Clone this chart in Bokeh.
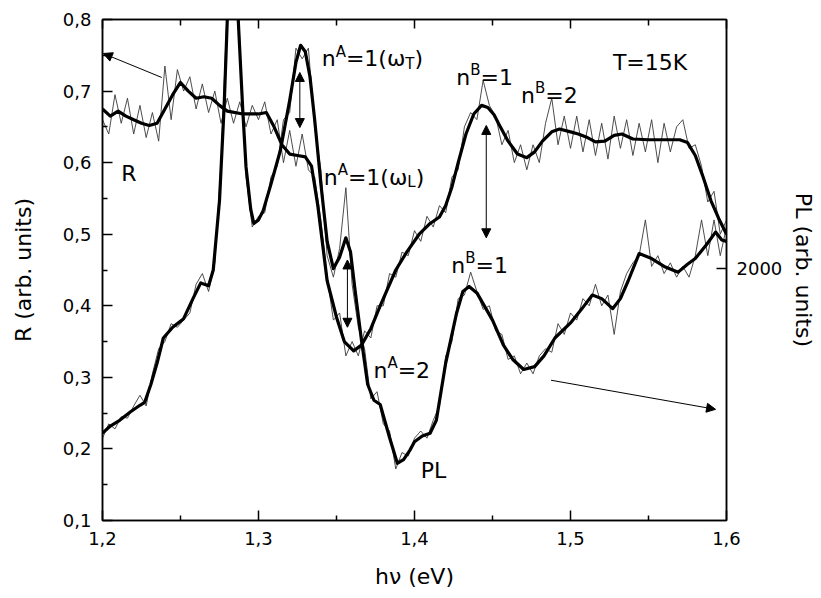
import numpy as np
from bokeh.plotting import figure
from bokeh.models import (Range1d, LinearAxis, FixedTicker, CustomJSTickFormatter,
                          Arrow, NormalHead, ColumnDataSource)
from bokeh.core.properties import value
from bokeh.embed import file_html
from bokeh.resources import INLINE

FONT = "DejaVu Sans"

# ---- Reflectance, smoothed (left axis, arb. units)
r_x = [1.200, 1.205, 1.210, 1.215, 1.220, 1.225, 1.230, 1.235, 1.240, 1.245, 1.250, 1.255,
       1.260, 1.265, 1.270, 1.275, 1.280, 1.290, 1.300, 1.305, 1.310, 1.315, 1.320, 1.325,
       1.330, 1.334, 1.338, 1.344, 1.350, 1.355, 1.361, 1.366, 1.372, 1.378, 1.388, 1.395,
       1.403, 1.410, 1.416, 1.420, 1.424, 1.428, 1.433, 1.438, 1.443, 1.447, 1.451, 1.455,
       1.460, 1.466, 1.472, 1.477, 1.482, 1.488, 1.493, 1.500, 1.505, 1.510, 1.516, 1.522,
       1.528, 1.533, 1.540, 1.550, 1.560, 1.570, 1.575, 1.580, 1.585, 1.590, 1.595, 1.600]
r_y = [0.675, 0.665, 0.672, 0.665, 0.660, 0.655, 0.652, 0.655, 0.675, 0.695, 0.712, 0.700,
       0.690, 0.692, 0.690, 0.680, 0.672, 0.668, 0.668, 0.670, 0.650, 0.625, 0.612, 0.610,
       0.608, 0.595, 0.540, 0.435, 0.384, 0.350, 0.337, 0.345, 0.368, 0.400, 0.450, 0.475,
       0.500, 0.515, 0.524, 0.540, 0.566, 0.600, 0.640, 0.668, 0.680, 0.677, 0.667, 0.650,
       0.630, 0.612, 0.607, 0.615, 0.630, 0.643, 0.647, 0.643, 0.640, 0.636, 0.629, 0.630,
       0.638, 0.640, 0.633, 0.632, 0.632, 0.632, 0.628, 0.610, 0.580, 0.547, 0.522, 0.500]

# ---- Photoluminescence, smoothed (right axis, arb. units)
pl_x = [1.200, 1.205, 1.211, 1.218, 1.224, 1.227, 1.231, 1.235, 1.239, 1.245,
        1.252, 1.258, 1.263, 1.268, 1.271, 1.275, 1.278, 1.280, 1.2835, 1.287,
        1.290, 1.292, 1.295, 1.297, 1.300, 1.303, 1.308, 1.314, 1.320, 1.324,
        1.327, 1.330, 1.333, 1.336, 1.340, 1.344, 1.348, 1.352, 1.356, 1.359,
        1.362, 1.366, 1.370, 1.374, 1.378, 1.384, 1.389, 1.393, 1.397, 1.400,
        1.405, 1.410, 1.414, 1.420, 1.427, 1.431, 1.435, 1.440, 1.450, 1.457,
        1.463, 1.470, 1.477, 1.483, 1.490, 1.500, 1.507, 1.514, 1.520, 1.527,
        1.532, 1.537, 1.544, 1.552, 1.560, 1.569, 1.575, 1.580, 1.587, 1.593,
        1.597, 1.600]
pl_y = [850, 900, 940, 1000, 1045, 1065, 1190, 1340, 1515, 1590,
        1650, 1790, 1900, 1880, 1990, 2475, 3140, 3740, 4640, 3740,
        3090, 2710, 2415, 2315, 2340, 2405, 2590, 2825, 3175, 3440,
        3560, 3515, 3340, 3040, 2590, 2190, 2000, 2080, 2215, 2115,
        1840, 1500, 1190, 1080, 1050, 820, 640, 665, 730, 790,
        830, 850, 940, 1340, 1690, 1840, 1875, 1830, 1640, 1465,
        1365, 1295, 1315, 1390, 1515, 1620, 1715, 1815, 1790, 1720,
        1790, 1915, 2105, 2070, 2015, 1975, 2030, 2070, 2165, 2255,
        2200, 2190]

# ---- raw (noisy) spectra on the measurement grid
raw_x = np.linspace(1.2, 1.6, 101)
r_raw = [0.66, 0.64, 0.695, 0.655, 0.69, 0.64, 0.68, 0.635, 0.67, 0.63,
         0.735, 0.66, 0.73, 0.70, 0.72, 0.675, 0.71, 0.67, 0.70, 0.655,
         0.69, 0.655, 0.685, 0.65, 0.68, 0.66, 0.685, 0.64, 0.66, 0.60,
         0.645, 0.595, 0.64, 0.59, 0.58, 0.52, 0.44, 0.38, 0.39, 0.33,
         0.35, 0.33, 0.365, 0.355, 0.40, 0.40, 0.445, 0.44, 0.475, 0.47,
         0.505, 0.49, 0.525, 0.51, 0.54, 0.53, 0.58, 0.59, 0.65, 0.67,
         0.66, 0.715, 0.68, 0.665, 0.625, 0.645, 0.60, 0.625, 0.59, 0.625,
         0.60, 0.655, 0.69, 0.625, 0.665, 0.62, 0.665, 0.615, 0.66, 0.61,
         0.655, 0.605, 0.665, 0.62, 0.66, 0.61, 0.655, 0.615, 0.66, 0.60,
         0.655, 0.615, 0.65, 0.66, 0.62, 0.625, 0.595, 0.545, 0.56, 0.50,
         0.52]
pl_raw = [815, 915, 880, 965, 955, 1040, 1115, 1040, 1265, 1440,
          1490, 1615, 1590, 1640, 1690, 1890, 1965, 1840, 2040, 2740,
          3840, 4640, 3590, 2640, 2290, 2365, 2390, 2640, 2715, 3040,
          3090, 3540, 3465, 3540, 2990, 2690, 2090, 1940, 2140, 2565,
          1890, 1590, 1440, 1090, 1140, 915, 865, 600, 715, 690,
          815, 865, 815, 940, 1040, 1390, 1490, 1790, 1815, 1975,
          1840, 1715, 1740, 1565, 1540, 1365, 1390, 1265, 1340, 1265,
          1390, 1440, 1415, 1615, 1540, 1690, 1640, 1790, 1740, 1890,
          1740, 1815, 1540, 1840, 1965, 2040, 2090, 2340, 2015, 2090,
          1965, 2040, 1940, 2015, 1940, 2090, 2340, 2090, 2340, 2090,
          2290]

x_ticks = [1.2, 1.3, 1.4, 1.5, 1.6]
x_minor = [1.25, 1.35, 1.45, 1.55]
y_ticks = [0.1, 0.2, 0.3, 0.4, 0.5, 0.6, 0.7, 0.8]
y_minor = [0.15, 0.25, 0.35, 0.45, 0.55, 0.65, 0.75]
pl_ticks = [2000]

p = figure(width=819, height=595, output_backend="svg", toolbar_location=None,
           x_range=Range1d(1.2, 1.6), y_range=Range1d(0.1, 0.8),
           min_border_left=102, min_border_right=91, min_border_top=19, min_border_bottom=75)
p.extra_y_ranges = {"pl": Range1d(240, 3740)}
p.xgrid.visible = False
p.ygrid.visible = False
p.outline_line_color = "black"
p.outline_line_width = 1.5
p.background_fill_color = "white"
p.border_fill_color = "white"

comma = CustomJSTickFormatter(code="return tick.toFixed(1).replace('.', ',');")

def style_axis(ax, in_major=10, in_minor=5):
    ax.axis_line_width = 1.5
    ax.axis_line_color = "black"
    ax.major_tick_in = in_major
    ax.major_tick_out = 0
    ax.minor_tick_in = in_minor
    ax.minor_tick_out = 0
    ax.major_tick_line_width = 1.5
    ax.minor_tick_line_width = 1.5
    ax.major_tick_line_color = "black"
    ax.minor_tick_line_color = "black"
    ax.major_label_text_font = FONT
    ax.major_label_text_font_size = "18px"
    ax.major_label_text_color = "black"
    ax.axis_label_text_font = FONT
    ax.axis_label_text_font_size = "22px"
    ax.axis_label_text_font_style = "normal"
    ax.axis_label_text_color = "black"

xa = p.xaxis[0]
xa.ticker = FixedTicker(ticks=x_ticks, minor_ticks=x_minor)
xa.formatter = comma
xa.axis_label = "hν (eV)"
style_axis(xa)
xa.major_label_standoff = 11
xa.axis_label_standoff = 16

ya = p.yaxis[0]
ya.ticker = FixedTicker(ticks=y_ticks, minor_ticks=y_minor)
ya.formatter = comma
ya.axis_label = "R (arb. units)"
style_axis(ya)
ya.major_label_standoff = 11
ya.axis_label_standoff = 24

top = LinearAxis(ticker=FixedTicker(ticks=x_ticks, minor_ticks=x_minor),
                 formatter=CustomJSTickFormatter(code="return '';"))
style_axis(top, 9, 6)
top.major_label_standoff = 0
p.add_layout(top, "above")

right = LinearAxis(y_range_name="pl", ticker=FixedTicker(ticks=pl_ticks, minor_ticks=[]),
                   axis_label="PL (arb. units)")
style_axis(right)
right.major_label_standoff = 10
right.axis_label_standoff = 6
p.add_layout(right, "right")

# raw noisy curves
p.line(raw_x, r_raw, line_color="#3a3a3a", line_width=0.9)
p.line(raw_x, pl_raw, line_color="#3a3a3a", line_width=0.9, y_range_name="pl")
# smoothed curves
p.line(r_x, r_y, line_color="black", line_width=3.2, line_join="round")
p.line(pl_x, pl_y, line_color="black", line_width=3.2, line_join="round", y_range_name="pl")

# ---- annotations (composite labels with super/subscripts)
W = {"n": 0.634, "A": 0.684, "B": 0.686, "=": 0.838, "1": 0.636, "2": 0.636, "5": 0.636,
     "(": 0.390, ")": 0.390, "ω": 0.837, "T": 0.611, "L": 0.557, "K": 0.656, "R": 0.695,
     "P": 0.603}
PX = 0.7 / 501.0
xs, ys, texts, sizes, offs = [], [], [], [], []

def compose(x, y, pieces):
    off = 0.0
    for txt, kind in pieces:
        size = 22 if kind == "main" else 15
        dy = {"main": 0.0, "sup": 7 * PX, "sub": -5 * PX}[kind]
        xs.append(x); ys.append(y + dy); texts.append(txt)
        sizes.append(f"{size}px"); offs.append(off)
        off += sum(W.get(c, 0.6) for c in txt) * size

compose(1.3405, 0.7455, [("n", "main"), ("A", "sup"), ("=1(ω", "main"), ("T", "sub"), (")", "main")])
compose(1.3418, 0.5793, [("n", "main"), ("A", "sup"), ("=1(ω", "main"), ("L", "sub"), (")", "main")])
compose(1.4268, 0.7190, [("n", "main"), ("B", "sup"), ("=1", "main")])
compose(1.4683, 0.6939, [("n", "main"), ("B", "sup"), ("=2", "main")])
compose(1.4236, 0.4564, [("n", "main"), ("B", "sup"), ("=1", "main")])
compose(1.3737, 0.3098, [("n", "main"), ("A", "sup"), ("=2", "main")])
compose(1.5272, 0.7400, [("T=15K", "main")])
compose(1.2120, 0.5850, [("R", "main")])
compose(1.4040, 0.1700, [("PL", "main")])

src = ColumnDataSource(dict(x=xs, y=ys, text=texts, size=sizes, xo=offs))
p.text(x="x", y="y", text="text", text_font_size="size", x_offset="xo", source=src,
       text_font=value(FONT), text_baseline="alphabetic", text_align="left", text_color="black")

def head():
    return NormalHead(size=9, fill_color="black", line_color="black", line_width=1)

arrows = [
    (1.238, 0.719, 1.2005, 0.7525, False),
    (1.4875, 0.296, 1.593, 0.2553, False),
    (1.3265, 0.649, 1.3265, 0.726, True),
    (1.357, 0.370, 1.357, 0.464, True),
    (1.446, 0.495, 1.446, 0.652, True),
]
for x0, y0, x1, y1, both in arrows:
    a = Arrow(end=head(), start=head() if both else None,
              x_start=x0, y_start=y0, x_end=x1, y_end=y1,
              line_color="black", line_width=1)
    p.add_layout(a)

open("out.html", "w").write(file_html(p, INLINE))
